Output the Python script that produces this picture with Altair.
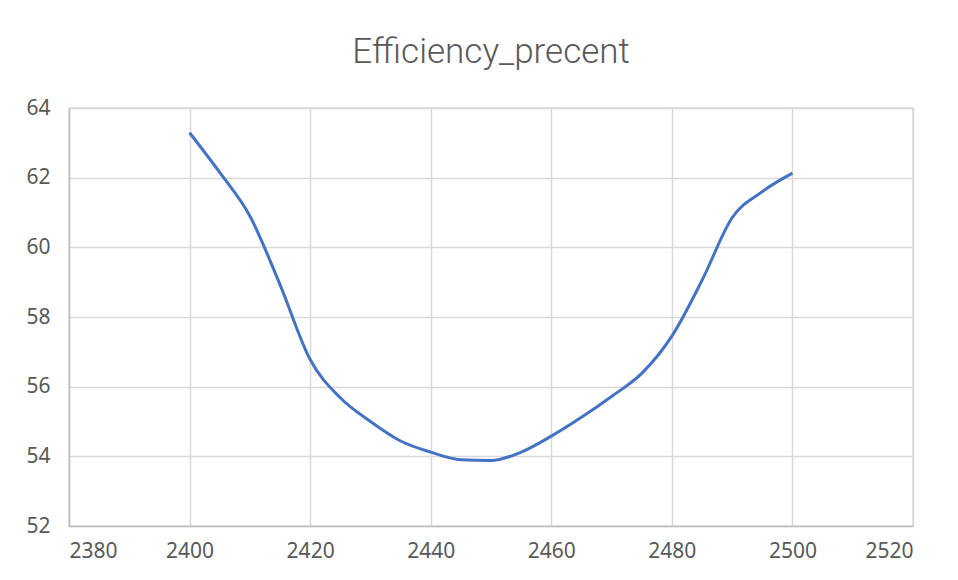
import altair as alt
import pandas as pd

freq = [2400, 2405, 2410, 2415, 2420, 2425, 2430, 2435, 2440, 2445, 2450,
        2455, 2460, 2465, 2470, 2475, 2480, 2485, 2490, 2495, 2500]
eff = [63.29, 62.15, 60.9, 58.93, 56.78, 55.68, 55.0, 54.44, 54.12, 53.9, 53.88,
       54.12, 54.58, 55.12, 55.72, 56.38, 57.45, 59.05, 60.85, 61.6, 62.13]
x_ticks = [2380, 2400, 2420, 2440, 2460, 2480, 2500, 2520]
y_ticks = [52, 54, 56, 58, 60, 62, 64]

df = pd.DataFrame({"freq": freq, "eff": eff})

chart = alt.Chart(df).mark_line(
    interpolate="monotone", color="#4472C4", strokeWidth=3
).encode(
    x=alt.X("freq:Q", scale=alt.Scale(domain=[2380, 2520], nice=False, zero=False),
            axis=alt.Axis(values=x_ticks, format="d", title=None, labelPadding=14, tickSize=0,
                          grid=True, gridColor="#d9d9d9", gridWidth=1.5,
                          domainColor="#bfbfbf", domainWidth=1.5,
                          labelFontSize=21, labelColor="#595959", labelFont="Noto Sans")),
    y=alt.Y("eff:Q", scale=alt.Scale(domain=[52, 64], nice=False, zero=False),
            axis=alt.Axis(values=y_ticks, format="d", title=None, labelPadding=19, tickSize=0,
                          grid=True, gridColor="#d9d9d9", gridWidth=1.5,
                          domainColor="#bfbfbf", domainWidth=1.5,
                          labelFontSize=21, labelColor="#595959", labelFont="Noto Sans")),
).properties(
    width=844, height=418,
    title=alt.TitleParams("Efficiency_precent", fontSize=35, font="Roboto",
                          fontWeight=300, color="#595959", anchor="middle", offset=27),
    autosize=alt.AutoSizeParams(type="none"),
    padding={"left": 61, "top": 100, "right": 20, "bottom": 40},
).configure_view(
    stroke="#d9d9d9", strokeWidth=1.5
)

chart.save("out.html", embed_options={"renderer": "svg", "actions": False})
